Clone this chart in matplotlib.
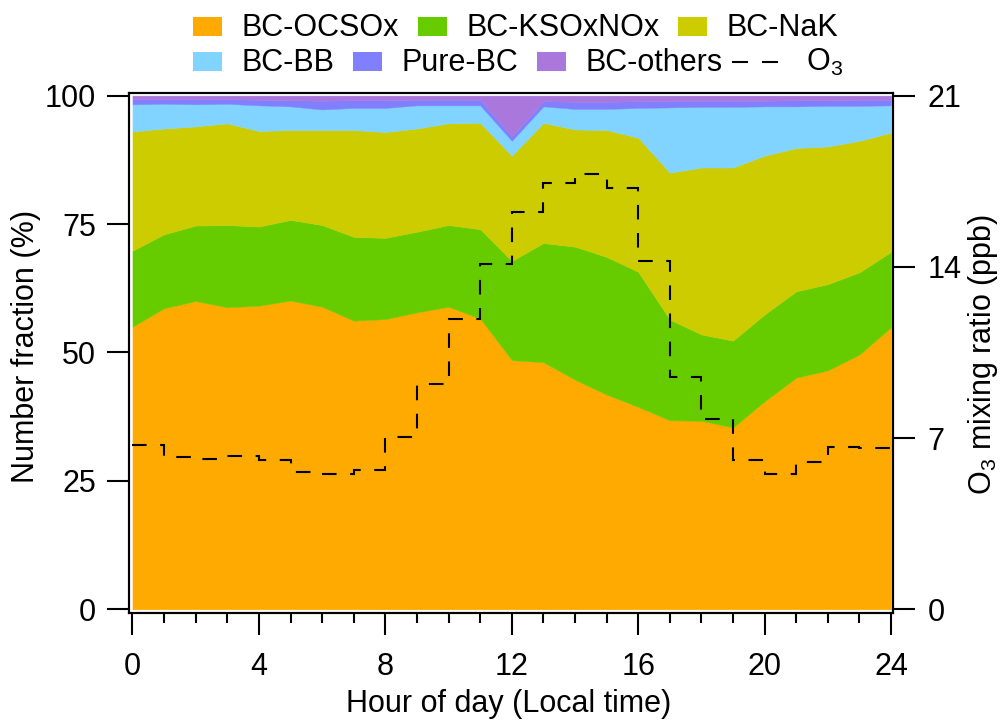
import matplotlib
matplotlib.use('Agg')
import matplotlib.pyplot as plt
from matplotlib.patches import Rectangle
from matplotlib.lines import Line2D
from matplotlib.ticker import NullLocator

plt.rcParams['font.family'] = ['Liberation Sans', 'DejaVu Sans']
plt.rcParams['mathtext.default'] = 'regular'
FS = 22

# ---------------- data ----------------
hours = list(range(25))
bc_ocsox = [55.0, 58.6, 60.0, 58.8, 59.1, 60.1, 58.9, 56.2, 56.5, 57.8, 58.9, 56.6, 48.5,
            48.1, 44.7, 41.8, 39.4, 36.8, 36.7, 35.4, 40.5, 45.1, 46.5, 49.6, 54.9]
bc_ksoxnox = [14.8, 14.4, 14.7, 16.0, 15.4, 15.7, 15.9, 16.3, 15.8, 15.7, 15.9, 17.4, 19.3,
              23.2, 25.9, 26.8, 26.3, 19.6, 16.8, 16.9, 16.9, 16.8, 16.8, 16.0, 14.7]
bc_nak = [23.2, 20.6, 19.3, 19.8, 18.6, 17.5, 18.5, 20.8, 20.6, 20.1, 19.8, 20.7, 20.5,
          23.4, 22.8, 24.7, 26.1, 28.6, 32.5, 33.7, 30.9, 27.9, 26.8, 25.6, 23.2]
bc_bb = [5.3, 4.8, 4.3, 3.8, 5.0, 4.6, 4.0, 4.3, 4.7, 4.5, 3.5, 3.4, 2.9,
         3.2, 4.0, 4.1, 5.8, 12.7, 11.8, 11.8, 9.6, 8.1, 7.9, 6.8, 5.3]
pure_bc = [1.0, 0.9, 1.0, 0.9, 1.1, 1.2, 1.7, 1.5, 1.5, 1.1, 1.1, 1.1, 0.9,
           1.0, 1.4, 1.4, 1.3, 1.3, 1.2, 1.2, 1.1, 1.2, 1.1, 1.2, 1.1]
bc_others = [0.7, 0.7, 0.7, 0.7, 0.8, 0.9, 1.0, 0.9, 0.9, 0.8, 0.8, 0.8, 7.9,
             1.1, 1.2, 1.2, 1.1, 1.0, 1.0, 1.0, 1.0, 0.9, 0.9, 0.8, 0.8]

o3_edges = list(range(25))
o3 = [6.71, 6.23, 6.15, 6.27, 6.10, 5.62, 5.53, 5.70, 7.05, 9.23, 11.85, 14.13,
      16.24, 17.44, 17.81, 17.22, 14.23, 9.50, 7.76, 6.10, 5.53, 6.02, 6.64, 6.59]

labels = ['BC-OCSOx', 'BC-KSOxNOx', 'BC-NaK', 'BC-BB', 'Pure-BC', 'BC-others']
colors = ['#FFAA00', '#66CC00', '#CCCC00', '#80D4FF', '#8080FF', '#AA77DD']

# ---------------- figure ----------------
W, H = 1003, 721
fig = plt.figure(figsize=(W / 100, H / 100), dpi=100)
L, R, T, B = 129.3, 893.3, 93.3, 612.7
ax = fig.add_axes([L / W, 1 - B / H, (R - L) / W, (B - T) / H])

ax.stackplot(hours, bc_ocsox, bc_ksoxnox, bc_nak, bc_bb, pure_bc, bc_others,
             colors=colors, edgecolor='face', linewidth=0.3)

ax.set_xlim(-0.1, 24.07)
ax.set_ylim(-0.66, 100.45)
ax.set_xticks(range(0, 25, 4))
ax.set_xticks(range(25), minor=True)
ax.set_yticks([0, 25, 50, 75, 100])
ax.yaxis.set_minor_locator(NullLocator())
ax.tick_params(axis='x', which='major', length=15.5, width=1.5, pad=13, labelsize=FS)
ax.tick_params(axis='x', which='minor', length=7.5, width=1.5)
ax.tick_params(axis='y', which='major', length=15.5, width=1.5, pad=8.5, labelsize=FS)
for s in ax.spines.values():
    s.set_linewidth(1.5)

ax.set_xlabel('Hour of day (Local time)', fontsize=FS)
ax.xaxis.set_label_coords(0.496, -0.147)
ax.set_ylabel('Number fraction (%)', fontsize=FS)
ax.yaxis.set_label_coords(-0.1150, 0.512)

ax2 = ax.twinx()
ax2.stairs(o3, o3_edges, baseline=None, color='black', linewidth=1.5,
           linestyle=(0, (7, 6.5)))
ax2.set_ylim(-0.66 * 0.21, 100.45 * 0.21)
ax2.set_yticks([0, 7, 14, 21])
ax2.yaxis.set_minor_locator(NullLocator())
ax2.tick_params(axis='y', which='major', length=16, width=1.5, pad=8.5, labelsize=FS)
for s in ax2.spines.values():
    s.set_linewidth(1.5)
ax2.set_ylabel('O$_3$ mixing ratio (ppb)', fontsize=FS)
ax2.yaxis.set_label_coords(1.0955, 0.497)

# ---------------- legend (manual, two rows) ----------------
def fx(px):
    return px / W

def fy(py):
    return 1 - py / H

def patch_item(x0, ytop, color, text):
    fig.add_artist(Rectangle((fx(x0), fy(ytop + 19)), 29 / W, 19 / H,
                             transform=fig.transFigure, facecolor=color,
                             edgecolor='none'))
    fig.text(fx(x0 + 49), fy(ytop + 19), text, fontsize=FS, va='baseline', ha='left')

row1_y, row2_y = 17, 52
patch_item(193, row1_y, colors[0], labels[0])
patch_item(418, row1_y, colors[1], labels[1])
patch_item(678, row1_y, colors[2], labels[2])
patch_item(193, row2_y, colors[3], labels[3])
patch_item(353, row2_y, colors[4], labels[4])
patch_item(537, row2_y, colors[5], labels[5])
for xa, xb in [(733, 747), (763, 777)]:
    fig.add_artist(Line2D([fx(xa), fx(xb)], [fy(61.5), fy(61.5)],
                          transform=fig.transFigure, color='black', linewidth=1.5))
fig.text(fx(806), fy(71), 'O$_3$', fontsize=FS, va='baseline', ha='left')

fig.savefig('out.png', dpi=100)
